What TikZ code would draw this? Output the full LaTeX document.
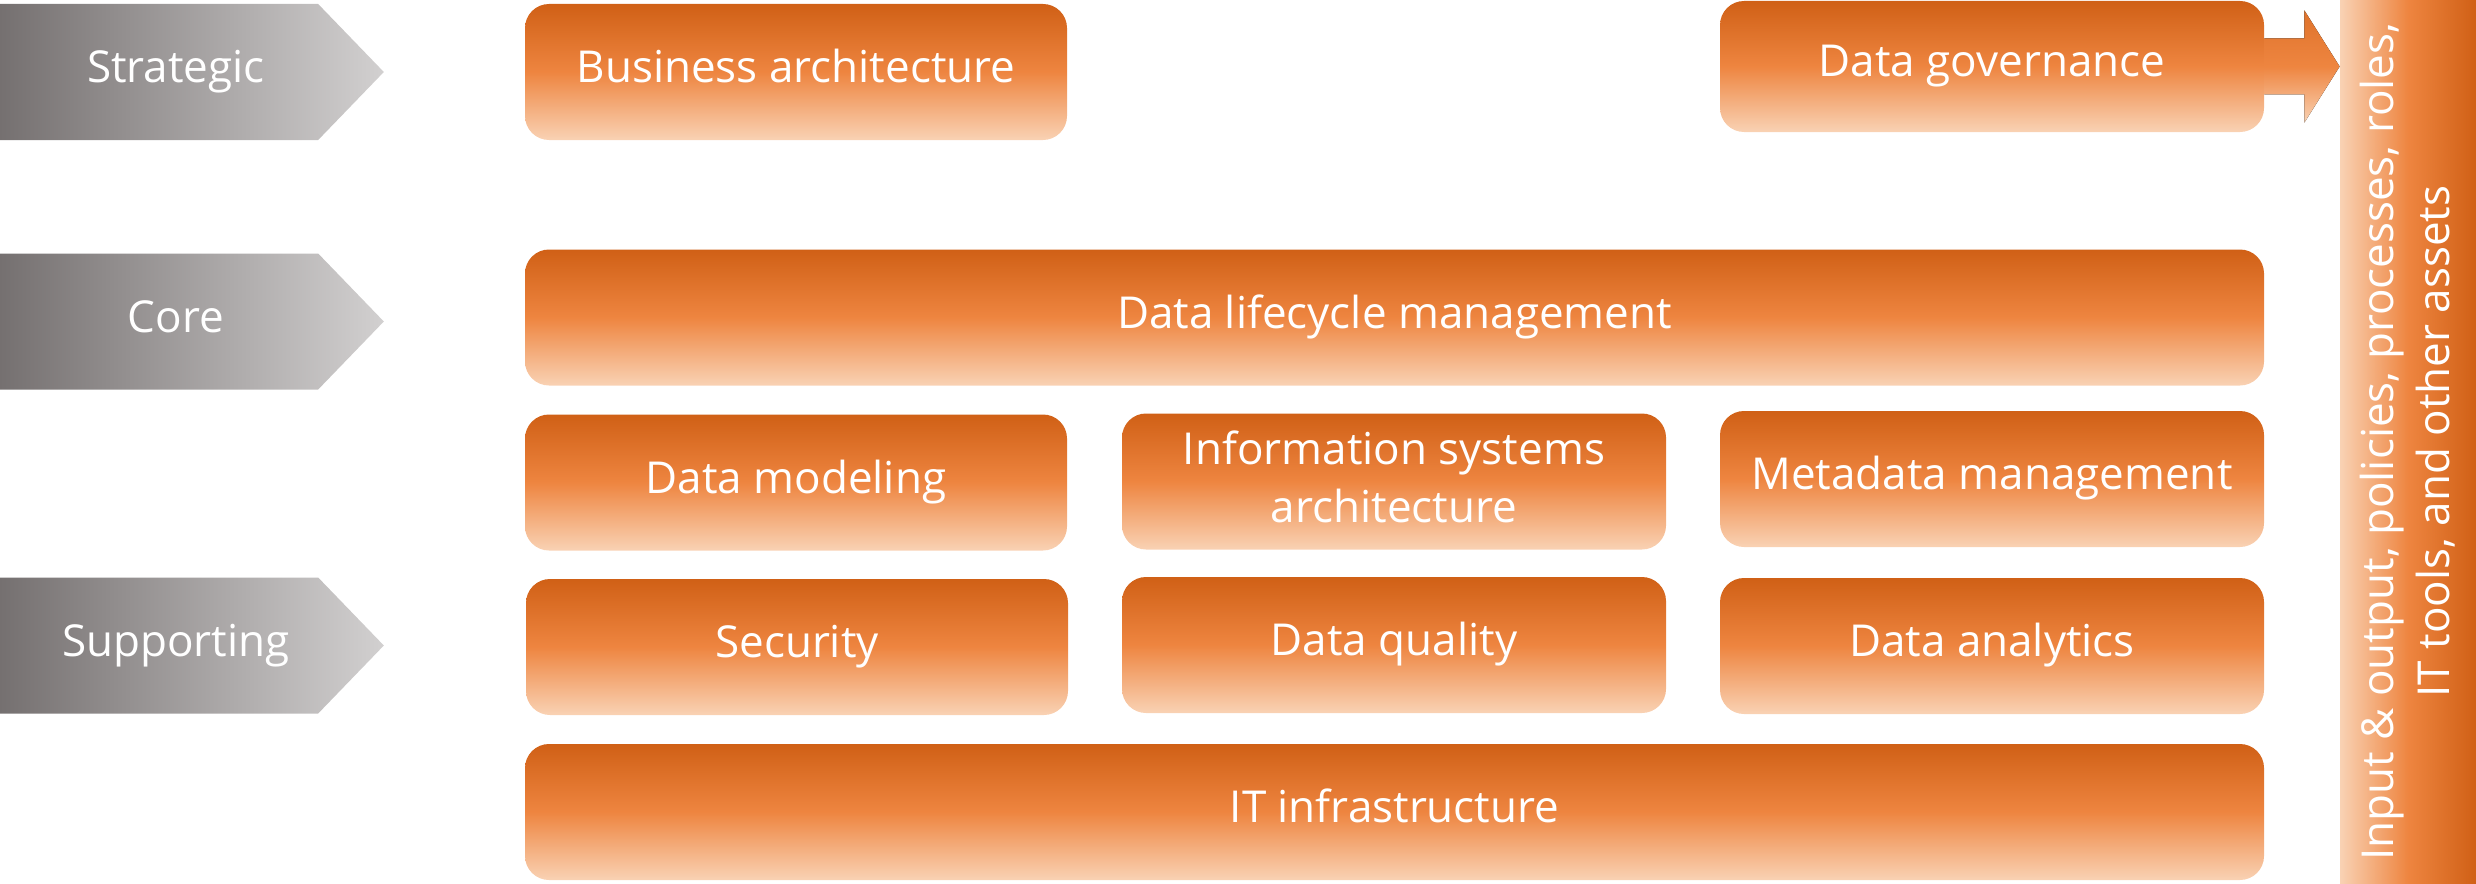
\documentclass[tikz,border=0pt]{standalone}
\usepackage{fontspec}
\setmainfont{Open Sans}
\usetikzlibrary{shapes.symbols,calc}
\definecolor{orTop}{RGB}{208,96,22}
\definecolor{orMid}{RGB}{238,133,64}
\definecolor{orBot}{RGB}{249,210,180}
\definecolor{grLeft}{RGB}{117,112,112}
\definecolor{grRight}{RGB}{210,208,208}
\tikzset{
  layer/.style={signal, signal to=east, signal pointer angle=92, left color=grLeft, right color=grRight, text=white, font=\fontsize{22}{26}\selectfont, minimum width=192pt, minimum height=68pt, inner sep=0pt, text height=16pt, text depth=5.5pt, execute at begin node={\hspace*{17pt}}},
  block/.style={rectangle, rounded corners=12pt, top color=orTop, bottom color=orBot, middle color=orMid, text=white, align=center, font=\fontsize{22}{29}\selectfont, minimum width=271pt, minimum height=68pt, inner sep=0pt, text height=16pt, text depth=5.5pt},
}
\begin{document}
\begin{tikzpicture}[x=0.5pt,y=0.5pt,yscale=-1,xscale=1]
\useasboundingbox (0,0) rectangle (2476,883);

%Shape: Signal [id:strategic]
\node[layer] (strategic) at (159,72) {Strategic};
%Shape: Signal [id:core]
\node[layer] (core) at (159,321.5) {Core};
%Shape: Signal [id:supporting]
\node[layer] (supporting) at (159,645.5) {Supporting};

%Shape: Rounded Rect [id:busarch]
\node[block] (busarch) at (796,72) {Business architecture};
%Shape: Rounded Rect [id:governance]
\node[block, minimum width=272pt, minimum height=65.5pt] (governance) at (1992,66.5) {Data governance};
%Shape: Rounded Rect [id:lifecycle]
\node[block, minimum width=869.5pt] (lifecycle) at (1394.5,317.5) {Data lifecycle management};
%Shape: Rounded Rect [id:modeling]
\node[block] (modeling) at (796,482.5) {Data modeling};
%Shape: Rounded Rect [id:infosys]
\node[block, minimum width=272pt, text height={}, text depth={}] (infosys) at (1394,481.5) {Information systems\\architecture\rule{0pt}{0pt}\vspace*{5pt}};
%Shape: Rounded Rect [id:metadata]
\node[block, minimum width=272pt] (metadata) at (1992,479) {Metadata management};
%Shape: Rounded Rect [id:security]
\node[block] (security) at (797,647) {Security};
%Shape: Rounded Rect [id:quality]
\node[block, minimum width=272pt] (quality) at (1394,645) {Data quality};
%Shape: Rounded Rect [id:analytics]
\node[block, minimum width=272pt] (analytics) at (1992,646) {Data analytics};
%Shape: Rounded Rect [id:infra]
\node[block, minimum width=869.5pt] (infra) at (1394.5,812) {IT infrastructure};

%Shape: Rectangle [id:assets]
\node[rectangle, rotate=90, left color=orBot, right color=orTop, middle color=orMid, text=white, align=center, font=\fontsize{22}{28}\selectfont, minimum width=441.5pt, minimum height=68pt, inner sep=0pt] (assets) at (2408,441.5) {Input \& output, policies, processes, roles,\\IT tools, and other assets};

%Block Arrow [id:govarrow]
\fill[top color=orTop!50!orMid, bottom color=orBot, middle color=orMid] ($(governance.east)+(0,-28)$) -- ($(governance.east)+(40,-28)$) -- ($(governance.east)+(40,-56)$) -- (assets.north |- governance.east) -- ($(governance.east)+(40,56)$) -- ($(governance.east)+(40,28)$) -- ($(governance.east)+(0,28)$) -- cycle;

\end{tikzpicture}
\end{document}
